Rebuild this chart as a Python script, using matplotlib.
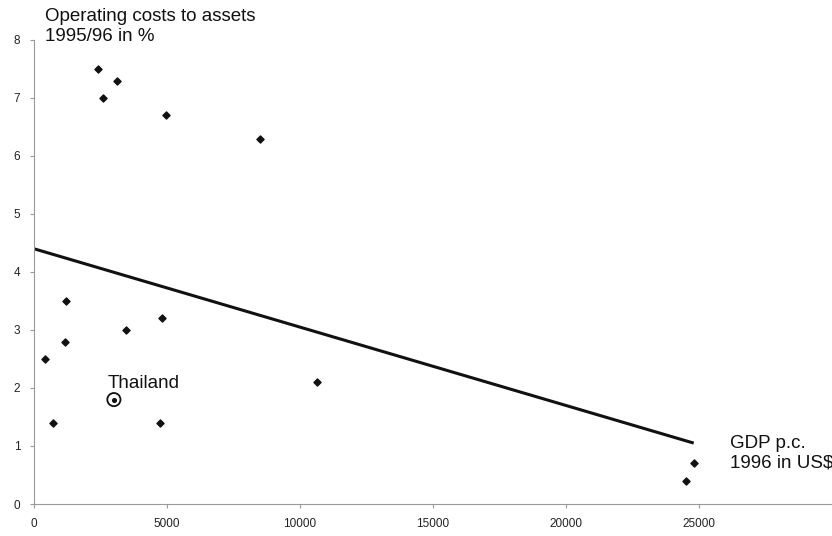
import numpy as np
import matplotlib.pyplot as plt

plt.rcParams['font.family'] = ['Liberation Sans', 'DejaVu Sans']

# GDP per capita 1996 (US$) and operating costs to assets 1995/96 (%)
gdp = [2400, 3100, 2600, 4950, 8500, 1200, 4800, 3450, 1150, 400, 700, 4750, 10650, 24800, 24500]
costs = [7.5, 7.3, 7.0, 6.7, 6.3, 3.5, 3.2, 3.0, 2.8, 2.5, 1.4, 1.4, 2.1, 0.7, 0.4]

thai_gdp = 3000
thai_cost = 1.8

# trend line end points
trend_x = [0, 24800]
trend_y = [4.4, 1.05]

fig = plt.figure(figsize=(8.32, 5.36), dpi=100)
ax = fig.add_axes([0.041, 0.0597, 0.959, 0.8657])

ax.plot(trend_x, trend_y, color='#111111', linewidth=2.2, solid_capstyle='butt')
ax.scatter(gdp, costs, marker='D', s=13, color='#111111', zorder=3)
ax.scatter([thai_gdp], [thai_cost], marker='o', s=90, facecolors='none',
           edgecolors='#111111', linewidths=1.3, zorder=3)
ax.scatter([thai_gdp], [thai_cost], marker='o', s=7, color='#111111', zorder=4)
ax.text(2750, 2.0, 'Thailand', fontsize=13.5, ha='left', va='baseline', color='#111111')

ax.set_xlim(0, 30000)
ax.set_ylim(0, 8)
ax.set_xticks(np.arange(0, 25001, 5000))
ax.set_yticks(np.arange(0, 9, 1))
ax.tick_params(labelsize=8.5, length=3, color='#999999', labelcolor='#222222', pad=7)

for side in ['top', 'right']:
    ax.spines[side].set_visible(False)
for side in ['left', 'bottom']:
    ax.spines[side].set_color('#999999')
    ax.spines[side].set_linewidth(0.8)

fig.text(45 / 832, 1 - 8 / 536, 'Operating costs to assets\n1995/96 in %',
         fontsize=13.5, ha='left', va='top', linespacing=1.2, color='#111111')
fig.text(730 / 832, 1 - 435 / 536, 'GDP p.c.\n1996 in US$',
         fontsize=13.5, ha='left', va='top', linespacing=1.2, color='#111111')

plt.savefig('out.png', dpi=100)
